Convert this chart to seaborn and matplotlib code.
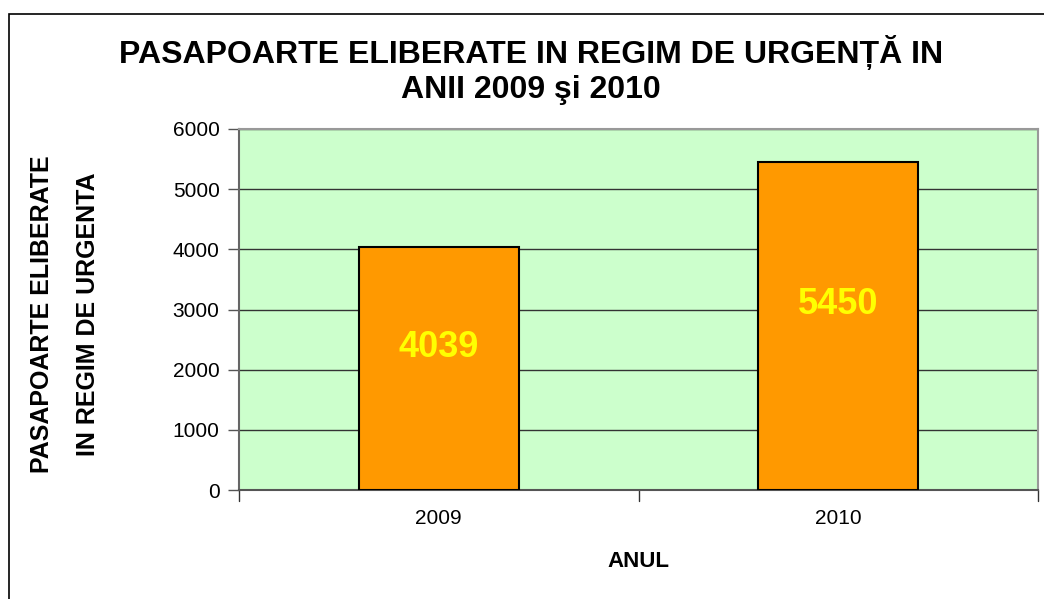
import matplotlib
matplotlib.use("Agg")
import matplotlib.pyplot as plt
import seaborn as sns
import pandas as pd

years = ["2009", "2010"]
passports = [4039, 5450]
y_ticks = [0, 1000, 2000, 3000, 4000, 5000, 6000]

df = pd.DataFrame({"an": years, "pasapoarte": passports})

sns.set_style("white")
plt.rcParams["font.family"] = ["Liberation Sans", "DejaVu Sans"]
plt.rcParams["text.color"] = "black"
plt.rcParams["xtick.color"] = "black"
plt.rcParams["ytick.color"] = "black"
plt.rcParams["axes.labelcolor"] = "black"

fig = plt.figure(figsize=(10.44, 5.99), dpi=100)
ax = fig.add_axes([239 / 1044, 1 - 490 / 599, 799 / 1044, 361 / 599])

# frame round the whole chart (left and top edges visible)
fig.patches.append(plt.Rectangle((9 / 1044, -0.1), 1.2, 1 - 14 / 599 + 0.1,
                                 transform=fig.transFigure, fill=False,
                                 edgecolor="black", linewidth=1.2))

ax.set_facecolor("#CCFFCC")
sns.barplot(data=df, x="an", y="pasapoarte", color="#FF9900", saturation=1,
            width=0.4, edgecolor="black", linewidth=1.5, ax=ax, zorder=3)

ax.set_xlim(-0.5, 1.5)
ax.set_ylim(0, 6000)
ax.set_yticks(y_ticks)
ax.set_yticklabels([str(t) for t in y_ticks], fontsize=15)
ax.yaxis.grid(True, color="#333333", linewidth=1)
ax.set_axisbelow(True)

ax.set_xticks([0, 1])
ax.set_xticklabels(years, fontsize=15)
ax.tick_params(axis="x", length=0, pad=14)
ax.tick_params(axis="y", length=8, width=1, color="#555555", pad=6, left=True)
for b in [-0.5, 0.5, 1.5]:
    ax.plot([b, b], [0, -0.03], transform=ax.get_xaxis_transform(),
            color="#333333", lw=1, clip_on=False)

for s in ax.spines.values():
    s.set_color("#999999")
    s.set_linewidth(1.5)
ax.spines["left"].set_color("#666666")
ax.spines["bottom"].set_color("#555555")

for i, v in enumerate(passports):
    ax.text(i, v / 2 + 350, str(v), ha="center", va="center", color="#FFFF00",
            fontsize=26, fontweight="bold", zorder=5)

ax.set_xlabel("ANUL", fontsize=16, fontweight="bold", labelpad=16)
ax.set_ylabel("")
fig.text(42 / 1044, 1 - 314 / 599, "PASAPOARTE ELIBERATE", rotation=90,
         ha="center", va="center", fontsize=18, fontweight="bold")
fig.text(88 / 1044, 1 - 314 / 599, "IN REGIM DE URGENTA", rotation=90,
         ha="center", va="center", fontsize=18, fontweight="bold")

fig.text(531 / 1044, 1 - 70 / 599, "PASAPOARTE ELIBERATE IN REGIM DE URGENȚĂ IN\nANII 2009 şi 2010",
         ha="center", va="center", fontsize=23, fontweight="bold", linespacing=1.25)

fig.savefig("out.png", dpi=100)
